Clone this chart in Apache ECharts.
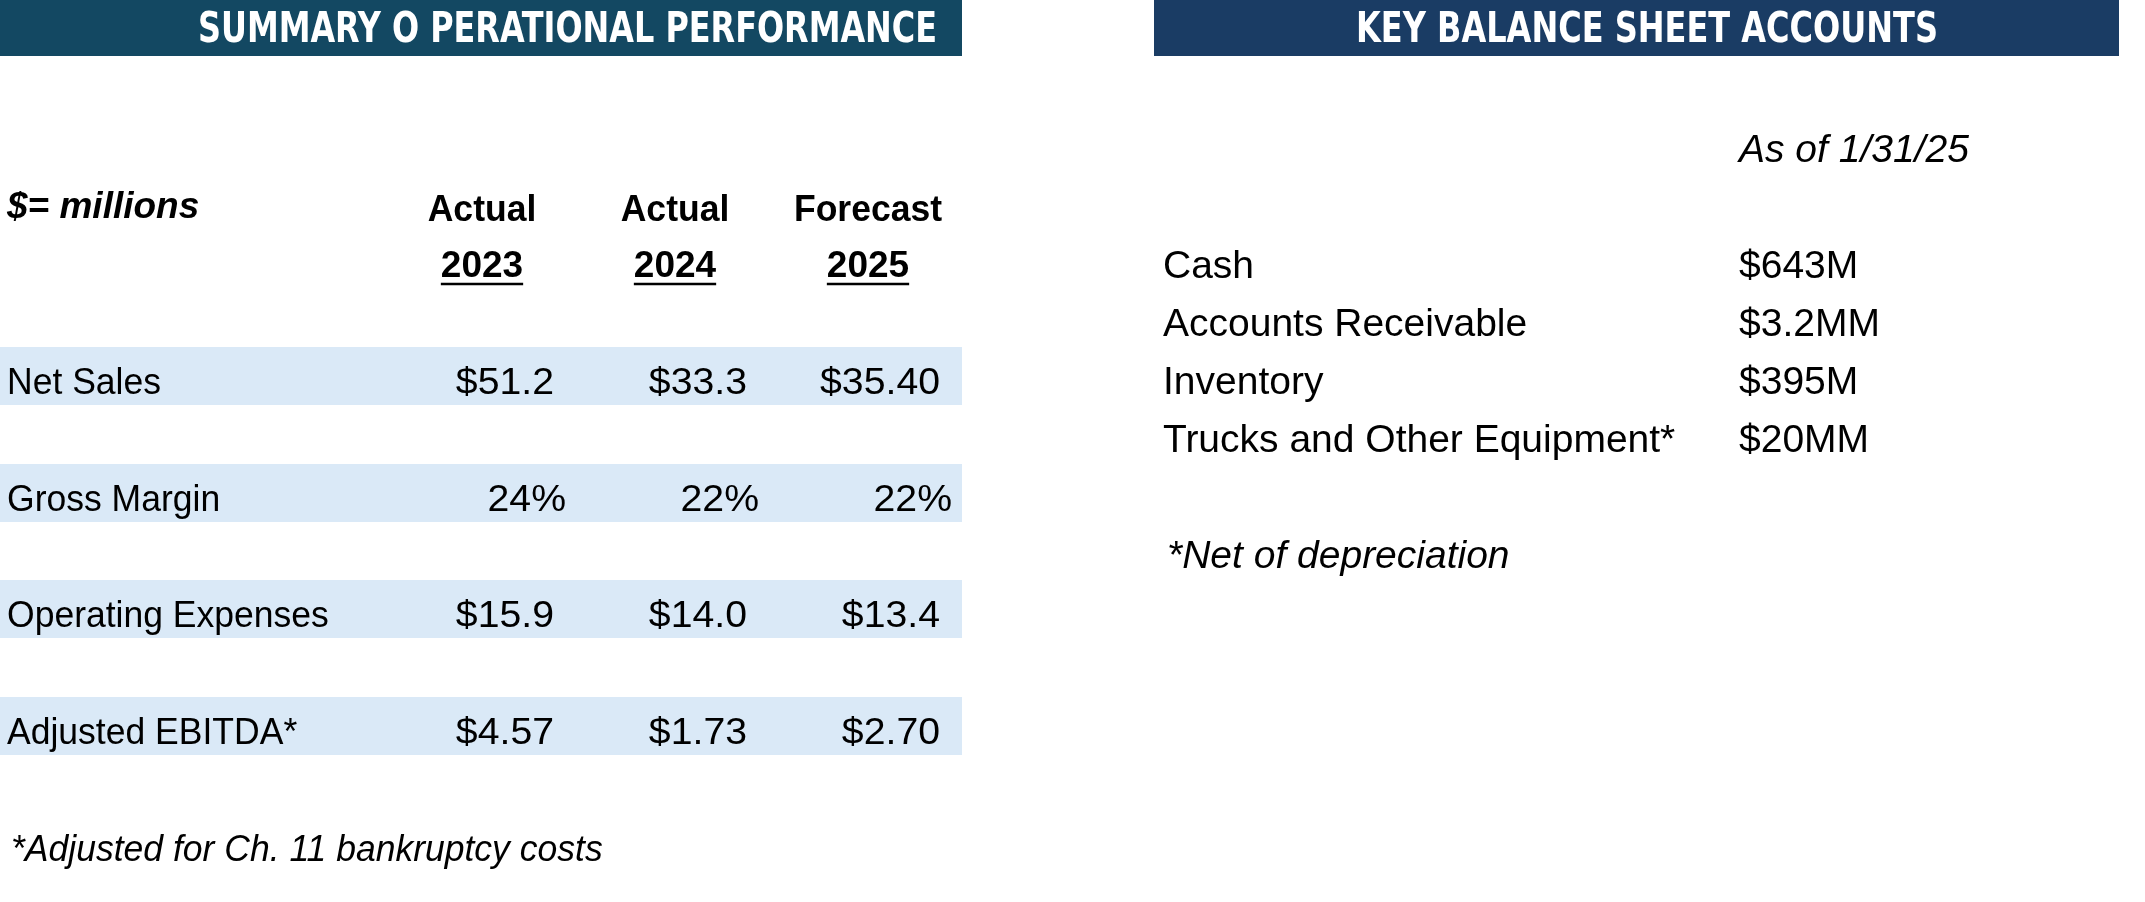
<!DOCTYPE html>
<html>
<head>
<meta charset="utf-8">
<script src="https://cdn.jsdelivr.net/npm/echarts@6/dist/echarts.min.js"></script>
<style>
html,body{margin:0;padding:0;background:#fff;}
#main{width:2145px;height:902px;}
</style>
</head>
<body>
<div id="main"></div>
<script>
/*表格数据*/
var titles = ['SUMMARY O PERATIONAL PERFORMANCE', 'KEY BALANCE SHEET ACCOUNTS'];
var unitLabel = '$= millions';
var colTop = ['Actual', 'Actual', 'Forecast'];
var colYears = ['2023', '2024', '2025'];
var rowNames = ['Net Sales', 'Gross Margin', 'Operating Expenses', 'Adjusted EBITDA*'];
var netSales = ['$51.2', '$33.3', '$35.40'];
var grossMargin = ['24%', '22%', '22%'];
var opExpenses = ['$15.9', '$14.0', '$13.4'];
var adjEbitda = ['$4.57', '$1.73', '$2.70'];
var leftNote = '*Adjusted for Ch. 11 bankruptcy costs';

var asOfLabel = 'As of 1/31/25';
var accountNames = ['Cash', 'Accounts Receivable', 'Inventory', 'Trucks and Other Equipment*'];
var accountValues = ['$643M', '$3.2MM', '$395M', '$20MM'];
var rightNote = '*Net of depreciation';

/*样式*/
var FONT = '"Liberation Sans", Arial, sans-serif';
var TITLE_FONT = '"DejaVu Sans Condensed", "Liberation Sans", sans-serif';
var SIZE = 37;
var RSIZE = 39;//右侧表格字号略大

var measure = function (text, font) {
    var c = document.createElement('canvas').getContext('2d');
    c.font = font;
    return c.measureText(text).width;
};

var txt = function (x, y, text, opt) {
    opt = opt || {};
    return {
        type: 'text',
        x: x,
        y: y,
        scaleX: opt.scaleX || 1,
        style: {
            text: text,
            fill: opt.fill || '#000',
            font: (opt.italic ? 'italic ' : '') + (opt.bold ? 'bold ' : '') + (opt.size || SIZE) + 'px ' + (opt.family || FONT),
            align: opt.align || 'left',
            verticalAlign: 'middle'
        }
    };
};

/*标题文字压窄到目标宽度*/
var titleText = function (x, y, text, width, align) {
    var font = 'bold 42px ' + TITLE_FONT;
    var s = width / measure(text, font);
    return txt(x, y, text, {bold: true, fill: '#fff', size: 42, family: TITLE_FONT, align: align, scaleX: s});
};

var elements = [];

// 左侧标题
elements.push({type: 'rect', shape: {x: 0, y: 0, width: 962, height: 56}, style: {fill: '#134862'}});
elements.push(titleText(937, 31, titles[0], 739, 'right'));
// 右侧标题
elements.push({type: 'rect', shape: {x: 1154, y: 0, width: 965, height: 56}, style: {fill: '#1a3c64'}});
elements.push(titleText(1647, 31, titles[1], 582, 'center'));

// 列标题
var colX = [482, 675, 868];
elements.push(txt(7, 208, unitLabel, {bold: true, italic: true}));
for (var i = 0; i < colX.length; i++) {
    elements.push(txt(colX[i], 211, colTop[i], {bold: true, align: 'center', scaleX: 0.96}));
    elements.push(txt(colX[i], 267, colYears[i], {bold: true, align: 'center'}));
    var w = measure(colYears[i], 'bold ' + SIZE + 'px ' + FONT);
    elements.push({
        type: 'line',
        shape: {x1: colX[i] - w / 2, y1: 284, x2: colX[i] + w / 2, y2: 284},
        style: {stroke: '#000', lineWidth: 2.5}
    });
}

// 数据行
var rows = [netSales, grossMargin, opExpenses, adjEbitda];
var bandTop = [347, 464, 580, 697];
var dollarRight = [554, 747, 940];
var pctRight = [566, 759, 952];
for (var r = 0; r < rows.length; r++) {
    elements.push({type: 'rect', shape: {x: 0, y: bandTop[r], width: 962, height: 58}, style: {fill: '#dae9f7'}});
    var ty = bandTop[r] + 37;
    elements.push(txt(7, ty, rowNames[r], {scaleX: 0.96}));
    for (var c = 0; c < rows[r].length; c++) {
        var isPct = rows[r][c].indexOf('%') >= 0;
        elements.push(txt(isPct ? pctRight[c] : dollarRight[c], ty, rows[r][c], {align: 'right', scaleX: 1.06}));
    }
}
elements.push(txt(11, 851, leftNote, {italic: true, scaleX: 0.96}));

// 右侧资产负债表
elements.push(txt(1739, 151, asOfLabel, {italic: true, size: RSIZE}));
var acctY = [267, 325, 383, 441];
for (var k = 0; k < accountNames.length; k++) {
    elements.push(txt(1163, acctY[k], accountNames[k], {size: RSIZE}));
    elements.push(txt(1739, acctY[k], accountValues[k], {size: RSIZE}));
}
elements.push(txt(1167, 557, rightNote, {italic: true, size: RSIZE}));

var chart = echarts.init(document.getElementById('main'));
chart.setOption({
    animation: false,
    backgroundColor: '#fff',
    graphic: {elements: elements}
});
</script>
</body>
</html>
